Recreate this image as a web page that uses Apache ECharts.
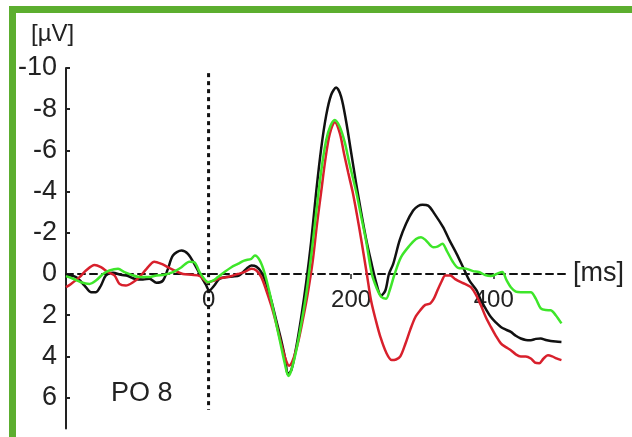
<!DOCTYPE html>
<html>
<head>
<meta charset="utf-8">
<script src="https://cdn.jsdelivr.net/npm/echarts@6/dist/echarts.min.js"></script>
<style>
html,body{margin:0;padding:0;background:#fff;}
#chart{width:632px;height:437px;}
</style>
</head>
<body>
<div id="chart"></div>
<script>
// Time (ms) vs amplitude (µV); negative plotted upward
const blackData = [[-200,0.05],[-186,0.15],[-174,0.56],[-165,0.88],[-158,0.88],[-151,0.56],[-144,0.07],[-134,-0.06],[-123,0.04],[-113,0.1],[-104,0.23],[-92,0.27],[-83,0.23],[-73,0.43],[-64,0.32],[-57,-0.25],[-50,-0.9],[-38,-1.14],[-29,-0.98],[-20,-0.49],[-10,0.15],[-4,0.5],[1,0.8],[8,0.56],[15,0.24],[25,0.15],[34,0.12],[43,0.07],[53,-0.25],[60,-0.41],[67,-0.36],[74,-0.09],[81,0.48],[88,1.29],[95,2.26],[102,3.23],[108,4.2],[111,4.85],[116,4.68],[123,3.55],[130,2.1],[137,0.4],[144,-1.6],[151,-4.0],[158,-6.1],[165,-7.7],[172,-8.7],[179,-9.05],[186,-8.6],[193,-7.4],[200,-5.9],[207,-4.4],[214,-3.0],[221,-1.7],[228,-0.6],[235,0.4],[242,1.05],[248,0.8],[253,0.0],[259,-0.49],[268,-1.63],[277,-2.44],[287,-3.08],[294,-3.3],[300,-3.36],[308,-3.32],[317,-2.92],[329,-2.27],[338,-1.63],[348,-0.98],[357,-0.33],[366,0.32],[376,0.8],[382,1.28],[389,1.7],[396,2.09],[403,2.35],[410,2.57],[417,2.7],[424,2.81],[431,3.0],[438,3.13],[445,3.2],[452,3.21],[459,3.15],[466,3.13],[473,3.2],[480,3.25],[487,3.28],[495,3.3]];

const greenData = [[-200,0.1],[-190,0.23],[-179,0.4],[-167,0.48],[-158,0.32],[-148,0],[-139,-0.17],[-127,-0.25],[-118,-0.09],[-108,0.04],[-97,0.15],[-85,0.15],[-73,0.07],[-62,0.04],[-50,-0.09],[-38,-0.33],[-27,-0.6],[-20,-0.57],[-12,-0.05],[-6,0.24],[-1,0.4],[6,0.32],[13,0.15],[22,-0.09],[32,-0.33],[41,-0.49],[50,-0.65],[60,-0.74],[65,-0.9],[72,-0.65],[79,0],[86,0.97],[93,2.1],[100,3.23],[107,4.36],[112,4.95],[116,4.68],[123,3.71],[130,2.42],[137,0.97],[144,-0.9],[151,-3.0],[158,-5.0],[165,-6.5],[171,-7.2],[177,-7.48],[184,-7.15],[191,-6.4],[198,-5.3],[207,-4.0],[214,-2.8],[221,-1.6],[229,0],[236,0.7],[242,1.1],[249,1.2],[254,0.8],[261,0],[270,-0.82],[282,-1.38],[291,-1.7],[298,-1.79],[305,-1.63],[315,-1.3],[321,-1.33],[328,-1.47],[334,-1.14],[343,-0.57],[350,-0.3],[361,-0.26],[371,-0.14],[379,-0.1],[388,0.05],[396,0.1],[404,0.0],[412,-0.1],[418,0.3],[424,0.64],[431,0.85],[438,0.88],[452,0.88],[459,1.2],[466,1.67],[473,1.75],[480,1.76],[487,2.0],[495,2.4]];

const redData = [[-200,0.64],[-193,0.48],[-181,0.15],[-172,-0.17],[-160,-0.44],[-151,-0.33],[-141,-0.09],[-132,0.07],[-125,0.48],[-116,0.56],[-106,0.4],[-97,0.15],[-87,-0.25],[-76,-0.6],[-66,-0.49],[-57,-0.33],[-48,-0.17],[-36,0],[-24,0.04],[-12,0.1],[-1,0.4],[8,0.32],[18,0.19],[30,0.12],[41,0],[50,-0.09],[60,-0.25],[67,-0.17],[74,0.15],[81,0.8],[88,1.54],[95,2.42],[102,3.4],[108,4.13],[113,4.45],[118,4.2],[125,3.4],[132,2.26],[139,0.97],[146,-0.6],[152,-2.4],[158,-4.0],[164,-5.6],[170,-6.8],[177,-7.37],[184,-6.85],[190,-5.85],[196,-4.9],[202,-4.0],[208,-2.9],[214,-1.7],[222,0],[228,1.3],[235,2.3],[241,3.05],[249,3.8],[257,4.18],[263,4.15],[269,4.0],[276,3.4],[283,2.7],[290,2.1],[297,1.76],[304,1.5],[311,1.43],[316,1.2],[321,0.8],[327,0.35],[332,0.07],[339,0.07],[346,0.25],[354,0.4],[361,0.5],[368,0.64],[375,1.0],[382,1.52],[389,2.1],[396,2.57],[403,3.0],[410,3.37],[417,3.55],[424,3.7],[431,3.9],[438,4.0],[445,4.0],[452,4.1],[458,4.3],[464,4.33],[470,4.1],[476,3.95],[482,4.0],[488,4.1],[495,4.18]];

const stimulusLine = [[0,-9.75],[0,6.6]];
const yTicks = [-10,-8,-6,-4,-2,0,2,4,6];
const xLabelTicks = [0,200,400];
const xMarkTicks = [200,400];
const electrodeLabel = 'PO 8';
const yUnit = '[µV]';
const xUnit = '[ms]';

const FONT = '"Liberation Sans", Arial, sans-serif';
const Y_MIN = -10, Y_MAX = 7.5;
const GRID_TOP = 68, GRID_BOTTOM = 8.5, H = 437;
const gridH = H - GRID_TOP - GRID_BOTTOM;
// place the x axis on the zero line (offset from grid bottom)
const xOffset = -(gridH * (Y_MAX - 0) / (Y_MAX - Y_MIN));

const chart = echarts.init(document.getElementById('chart'), null, {renderer:'canvas'});
const lineSeries = (data, color) => ({
  type:'line', data:data, showSymbol:false, smooth:0.3,
  lineStyle:{color:color, width:2.5}, z:3
});
chart.setOption({
  animation:false,
  backgroundColor:'#fff',
  title:{text:electrodeLabel, left:106, top:375, textStyle:{fontFamily:FONT, fontSize:27, fontWeight:'normal', color:'#222'}},
  grid:{left:66, right:67, top:GRID_TOP, bottom:GRID_BOTTOM, containLabel:false, outerBoundsMode:'none'},
  xAxis:{
    type:'value', min:-200, max:500, position:'bottom', offset:xOffset,
    name:xUnit, nameLocation:'end', nameGap:8,
    nameTextStyle:{fontFamily:FONT, fontSize:27, color:'#222', padding:[6,0,0,0], verticalAlign:'middle'},
    axisLine:{onZero:false, lineStyle:{color:'#111', width:2, type:[7,5]}},
    axisTick:{show:true, customValues:xMarkTicks, length:5, lineStyle:{color:'#222', width:1.5}},
    axisLabel:{customValues:xLabelTicks, fontFamily:FONT, fontSize:24, color:'#222', margin:14},
    splitLine:{show:false}
  },
  yAxis:{
    type:'value', inverse:true, min:Y_MIN, max:Y_MAX,
    axisLine:{onZero:false, lineStyle:{color:'#222', width:2}},
    axisTick:{show:true, inside:true, customValues:yTicks, length:4, lineStyle:{color:'#222', width:2}},
    axisLabel:{customValues:yTicks, fontFamily:FONT, fontSize:27, color:'#222', margin:9, padding:[6,0,0,0]},
    splitLine:{show:false}
  },
  graphic:[
    {type:'rect', shape:{x:9, y:6, width:623, height:7}, style:{fill:'#5cae2f'}, silent:true},
    {type:'rect', shape:{x:9, y:6, width:7, height:431}, style:{fill:'#5cae2f'}, silent:true},
    {type:'text', style:{x:31, y:22, text:yUnit, font:'24px ' + FONT, fill:'#222', textVerticalAlign:'top'}}
  ],
  series:[
    {type:'line', data:stimulusLine, showSymbol:false, lineStyle:{color:'#111', width:3, type:[4,4]}, z:2},
    lineSeries(blackData,'#111111'),
    lineSeries(redData,'#d8202c'),
    lineSeries(greenData,'#3ee62a')
  ]
});
</script>
</body>
</html>
